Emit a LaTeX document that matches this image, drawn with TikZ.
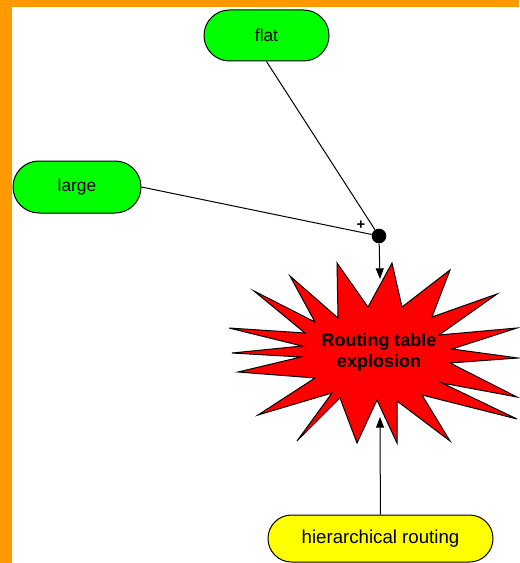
\documentclass[tikz,border=0pt]{standalone}
\usepackage{fontspec}
\setmainfont{Liberation Sans}
\usetikzlibrary{shapes.misc,arrows.meta}
\definecolor{frameorange}{RGB}{255,153,0}
\definecolor{pillgreen}{RGB}{0,255,0}
\definecolor{pillyellow}{RGB}{255,255,0}
\definecolor{burstred}{RGB}{255,0,0}

\begin{document}
\begin{tikzpicture}[x=0.75pt,y=-0.75pt,
  pill/.style={rounded rectangle,draw=black,line width=0.75pt,inner sep=0pt,font=\fontsize{13}{15}\selectfont},
  link/.style={draw=black,line width=0.75pt},
  tip/.style={-{Triangle[length=8pt,width=6pt]}}]

\fill[frameorange] (0,0) rectangle (519,563);
\fill[white] (12,7) rectangle (519,563);
\useasboundingbox (0,0) rectangle (519,563);

\filldraw[fill=burstred,draw=black,line width=0.75pt]
  (337,263) -- (368,307) -- (392,263) -- (402,307) -- (450,270) -- (432,317)
  -- (497,294) -- (439,335) -- (517,328) -- (452,349) -- (518,358) -- (450,363)
  -- (517,397) -- (442,383) -- (517,419) -- (422,395) -- (450,441) -- (397,401)
  -- (397,443) -- (377,400) -- (357,443) -- (340,398) -- (297,441) -- (332,393)
  -- (258,415) -- (315,378) -- (238,372) -- (301,357) -- (232,353) -- (302,346)
  -- (229,328) -- (305,333) -- (254,291) -- (315,322) -- (290,276) -- (338,318)
  -- cycle;

\node[pill,fill=pillgreen,minimum width=93.75pt,minimum height=38.25pt] (V_flat) at (266.5,35.5) {flat};
\node[pill,fill=pillgreen,minimum width=96pt,minimum height=39pt] (V_large) at (77,187) {large};
\node[pill,fill=pillyellow,minimum width=168.75pt,minimum height=35.25pt,font=\fontsize{14}{16}\selectfont] (V_hier) at (380.5,538.5) {hierarchical routing};
\node[align=center,font=\bfseries\fontsize{13.5}{15.75}\selectfont] (V_burst) at (379,352) {Routing table\\explosion};
\node[circle,fill=black,minimum size=11pt,inner sep=0pt] (V_junc) at (379,236) {};
\node[font=\bfseries\fontsize{11}{12}\selectfont,inner sep=0pt] (V_plus) at (361,225) {+};
\coordinate (V_top) at (380,279);
\coordinate (V_bot) at (380,417);

\draw[link] (V_flat.south) -- (V_junc);
\draw[link] (V_large.east) -- (V_junc);
\draw[link,tip] (V_junc) -- (V_top);
\draw[link,tip] (V_hier) -- (V_bot);

\end{tikzpicture}
\end{document}
